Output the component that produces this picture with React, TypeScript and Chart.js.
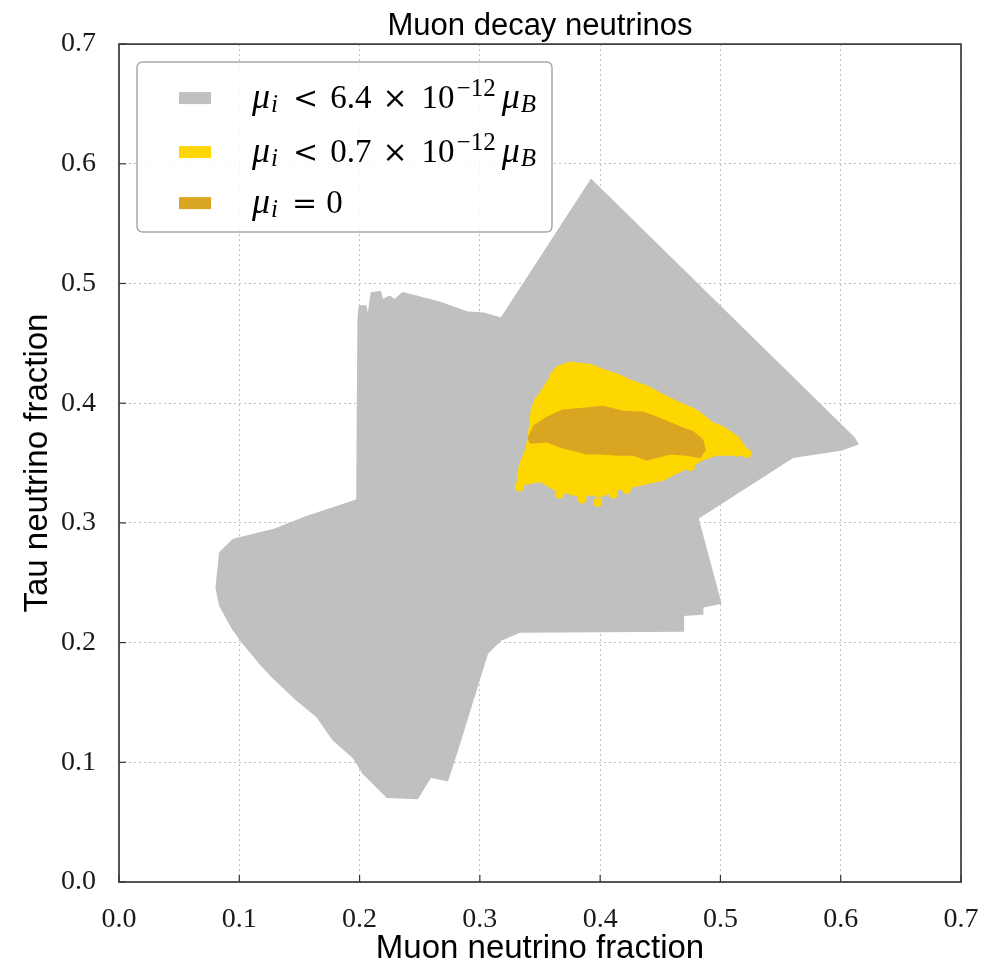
import React, { useEffect, useRef } from 'react';
import { Chart, registerables } from 'chart.js';

Chart.register(...registerables);

// ---- axis ticks ----
const AXIS_TICKS = [0, 0.1, 0.2, 0.3, 0.4, 0.5, 0.6, 0.7];
const TICK_LABELS = ['0.0', '0.1', '0.2', '0.3', '0.4', '0.5', '0.6', '0.7'];

// ---- text ----
const TITLE = 'Muon decay neutrinos';
const X_TITLE = 'Muon neutrino fraction';
const Y_TITLE = 'Tau neutrino fraction';
const LEGEND_BOUNDS = ['6.4', '0.7'];

// ---- regions (x = muon fraction, y = tau fraction) ----
const grayRegion: [number, number][] = [
  [0.392, 0.587], [0.611, 0.371], [0.614, 0.366], [0.600, 0.361], [0.560, 0.355],
  [0.481, 0.304], [0.500, 0.233], [0.485, 0.230], [0.485, 0.224], [0.469, 0.223],
  [0.469, 0.210], [0.333, 0.209], [0.317, 0.202], [0.306, 0.191], [0.294, 0.152],
  [0.281, 0.110], [0.273, 0.085], [0.259, 0.088], [0.248, 0.070], [0.223, 0.071],
  [0.203, 0.091], [0.195, 0.104], [0.178, 0.119], [0.165, 0.138], [0.148, 0.152],
  [0.128, 0.171], [0.117, 0.183], [0.103, 0.200], [0.095, 0.211], [0.084, 0.231],
  [0.081, 0.246], [0.084, 0.275], [0.095, 0.286], [0.128, 0.294], [0.156, 0.305],
  [0.198, 0.319], [0.199, 0.469], [0.200, 0.481], [0.205, 0.481], [0.207, 0.470],
  [0.210, 0.492], [0.217, 0.493], [0.219, 0.486], [0.225, 0.489], [0.229, 0.486],
  [0.236, 0.492], [0.244, 0.490], [0.267, 0.484], [0.289, 0.476], [0.303, 0.475],
  [0.317, 0.471],
];

const yellowRegion: [number, number][] = [
  [0.358, 0.422], [0.364, 0.430], [0.375, 0.434], [0.392, 0.432], [0.402, 0.428],
  [0.414, 0.424], [0.425, 0.419], [0.439, 0.414], [0.452, 0.407], [0.464, 0.401],
  [0.480, 0.394], [0.494, 0.383], [0.502, 0.380], [0.514, 0.372], [0.522, 0.361],
  [0.519, 0.357], [0.497, 0.357], [0.485, 0.353], [0.475, 0.347], [0.464, 0.342],
  [0.452, 0.336], [0.425, 0.330], [0.411, 0.327], [0.400, 0.322], [0.392, 0.324],
  [0.385, 0.322], [0.364, 0.327], [0.350, 0.335], [0.331, 0.331], [0.333, 0.347],
  [0.339, 0.363], [0.342, 0.383], [0.343, 0.394], [0.347, 0.405],
];

const yellowDots: [number, number][] = [
  [0.366, 0.324], [0.385, 0.320], [0.398, 0.317], [0.411, 0.324], [0.422, 0.328],
  [0.522, 0.358], [0.514, 0.359], [0.475, 0.347], [0.333, 0.330],
];

const orangeRegion: [number, number][] = [
  [0.344, 0.380], [0.356, 0.388], [0.369, 0.394], [0.392, 0.396], [0.402, 0.397],
  [0.419, 0.393], [0.436, 0.392], [0.452, 0.386], [0.466, 0.380], [0.477, 0.376],
  [0.485, 0.369], [0.487, 0.361], [0.483, 0.355], [0.472, 0.357], [0.458, 0.358],
  [0.439, 0.353], [0.427, 0.357], [0.416, 0.357], [0.400, 0.358], [0.389, 0.358],
  [0.369, 0.363], [0.356, 0.368], [0.342, 0.367], [0.340, 0.372],
];

const GRAY = '#c0c0c0';
const GOLD = '#ffd700';
const GOLDENROD = '#daa520';

const toPts = (arr: [number, number][]) => arr.map(([x, y]) => ({ x, y }));

type Piece = { t: string; font: string; dy?: number; gap?: number };

const F_MU = 'italic 36px "Liberation Serif"';
const F_SUB = 'italic 25px "Liberation Serif"';
const F_NUM = '33px "Liberation Serif"';
const F_SUP = '25px "Liberation Serif"';
const F_OP = '30px "DejaVu Serif"';

function legendPieces(kind: number): Piece[] {
  const head: Piece[] = [
    { t: 'μ', font: F_MU },
    { t: 'i', font: F_SUB, dy: 4, gap: 1 },
  ];
  if (kind === 2) {
    return [...head, { t: '=', font: F_OP, gap: 14 }, { t: '0', font: F_NUM, gap: 9 }];
  }
  return [
    ...head,
    { t: '<', font: F_OP, gap: 15 },
    { t: LEGEND_BOUNDS[kind], font: F_NUM, gap: 12 },
    { t: '×', font: F_OP, gap: 11 },
    { t: '10', font: F_NUM, gap: 14 },
    { t: '−12', font: F_SUP, dy: -12, gap: 2 },
    { t: 'μ', font: F_MU, gap: 6 },
    { t: 'B', font: F_SUB, dy: 4, gap: 1 },
  ];
}

function drawPieces(ctx: CanvasRenderingContext2D, x: number, y: number, pieces: Piece[]) {
  let cx = x;
  for (const p of pieces) {
    cx += p.gap || 0;
    ctx.font = p.font;
    ctx.fillText(p.t, cx, y + (p.dy || 0));
    cx += ctx.measureText(p.t).width;
  }
}

const overlayPlugin = {
  id: 'overlay',
  afterDatasetsDraw(chart: any) {
    const { ctx, chartArea, scales } = chart;
    const { left, right, top, bottom } = chartArea;
    ctx.save();
    // inward ticks
    ctx.strokeStyle = '#333';
    ctx.lineWidth = 1.2;
    AXIS_TICKS.forEach((v) => {
      const px = scales.x.getPixelForValue(v);
      ctx.beginPath();
      ctx.moveTo(px, bottom);
      ctx.lineTo(px, bottom - 7);
      ctx.stroke();
      const py = scales.y.getPixelForValue(v);
      ctx.beginPath();
      ctx.moveTo(left, py);
      ctx.lineTo(left + 7, py);
      ctx.stroke();
    });
    // frame
    ctx.lineWidth = 1.7;
    ctx.strokeStyle = '#3a3a3a';
    ctx.strokeRect(left, top, right - left, bottom - top);

    // legend
    const lx = left + 18;
    const ly = top + 18;
    const lw = 415;
    const lh = 170;
    const r = 6;
    ctx.beginPath();
    ctx.moveTo(lx + r, ly);
    ctx.lineTo(lx + lw - r, ly);
    ctx.quadraticCurveTo(lx + lw, ly, lx + lw, ly + r);
    ctx.lineTo(lx + lw, ly + lh - r);
    ctx.quadraticCurveTo(lx + lw, ly + lh, lx + lw - r, ly + lh);
    ctx.lineTo(lx + r, ly + lh);
    ctx.quadraticCurveTo(lx, ly + lh, lx, ly + lh - r);
    ctx.lineTo(lx, ly + r);
    ctx.quadraticCurveTo(lx, ly, lx + r, ly);
    ctx.closePath();
    ctx.fillStyle = 'rgba(255,255,255,0.85)';
    ctx.fill();
    ctx.lineWidth = 1.5;
    ctx.strokeStyle = '#a8a8a8';
    ctx.stroke();

    const rows = [
      { color: GRAY, cy: top + 54 },
      { color: GOLD, cy: top + 108 },
      { color: GOLDENROD, cy: top + 159 },
    ];
    rows.forEach((row, i) => {
      ctx.fillStyle = row.color;
      ctx.fillRect(left + 60, row.cy - 6, 32, 12);
      ctx.fillStyle = '#000';
      ctx.textBaseline = 'alphabetic';
      ctx.textAlign = 'left';
      drawPieces(ctx, left + 133, row.cy + 10, legendPieces(i));
    });
    ctx.restore();
  },
};

export default function App() {
  const ref = useRef<HTMLCanvasElement | null>(null);
  useEffect(() => {
    if (!ref.current) return;
    const tickFont = { family: 'Liberation Serif', size: 28 };
    const titleFont = { family: 'Liberation Sans', size: 33, weight: 'normal' as const, lineHeight: 1.2 };
    const regionStyle = (color: string) => ({
      showLine: true,
      fill: 'shape',
      backgroundColor: color,
      borderColor: color,
      borderWidth: 2,
      borderJoinStyle: 'round',
      pointRadius: 0,
      tension: 0,
    });
    const chart = new Chart(ref.current, {
      type: 'line',
      data: {
        datasets: [
          { label: 'mu0', data: toPts(orangeRegion), ...regionStyle(GOLDENROD) },
          {
            label: 'mu07dots',
            data: toPts(yellowDots),
            showLine: false,
            pointRadius: 4.5,
            pointBackgroundColor: GOLD,
            pointBorderWidth: 0,
            backgroundColor: GOLD,
            borderColor: GOLD,
          },
          { label: 'mu07', data: toPts(yellowRegion), ...regionStyle(GOLD) },
          { label: 'mu64', data: toPts(grayRegion), ...regionStyle(GRAY) },
        ],
      } as any,
      options: {
        animation: false,
        responsive: false,
        devicePixelRatio: 1,
        layout: { padding: { top: 0, right: 30, bottom: 0, left: 0 } },
        plugins: {
          legend: { display: false },
          tooltip: { enabled: false },
          title: {
            display: true,
            fullSize: false,
            text: TITLE,
            color: '#000',
            font: { family: 'Liberation Sans', size: 31, weight: 'normal', lineHeight: 1.1 },
            padding: { top: 9, bottom: 1 },
          },
        },
        scales: {
          x: {
            type: 'linear',
            min: 0,
            max: 0.7,
            afterFit: (s: any) => {
              s.height = 87;
              s.paddingLeft = 0;
              s.paddingRight = 0;
            },
            afterBuildTicks: (s: any) => {
              s.ticks = AXIS_TICKS.map((v) => ({ value: v }));
            },
            ticks: {
              callback: (_v: any, i: number) => TICK_LABELS[i],
              font: tickFont,
              color: '#1a1a1a',
              padding: 21,
              maxRotation: 0,
              autoSkip: false,
            },
            grid: { color: '#bdbdbd', lineWidth: 1, drawTicks: false },
            border: { display: false, dash: [2, 3] },
            title: {
              display: true,
              text: X_TITLE,
              color: '#000',
              font: titleFont,
              padding: { top: 0, bottom: 0 },
            },
          },
          y: {
            type: 'linear',
            min: 0,
            max: 0.7,
            afterFit: (s: any) => {
              s.width = 119;
              s.paddingTop = 0;
              s.paddingBottom = 0;
            },
            afterBuildTicks: (s: any) => {
              s.ticks = AXIS_TICKS.map((v) => ({ value: v }));
            },
            ticks: {
              callback: (_v: any, i: number) => TICK_LABELS[i],
              font: tickFont,
              color: '#1a1a1a',
              padding: 23,
              autoSkip: false,
            },
            grid: { color: '#bdbdbd', lineWidth: 1, drawTicks: false },
            border: { display: false, dash: [2, 3] },
            title: {
              display: true,
              text: Y_TITLE,
              color: '#000',
              font: titleFont,
              padding: { top: 18, bottom: 0 },
            },
          },
        },
      } as any,
      plugins: [overlayPlugin],
    });
    return () => chart.destroy();
  }, []);

  return (
    <div style={{ position: 'absolute', left: 0, top: 0, width: 991, height: 969, background: '#fff' }}>
      <canvas ref={ref} width={991} height={969} style={{ width: 991, height: 969, display: 'block' }} />
    </div>
  );
}
